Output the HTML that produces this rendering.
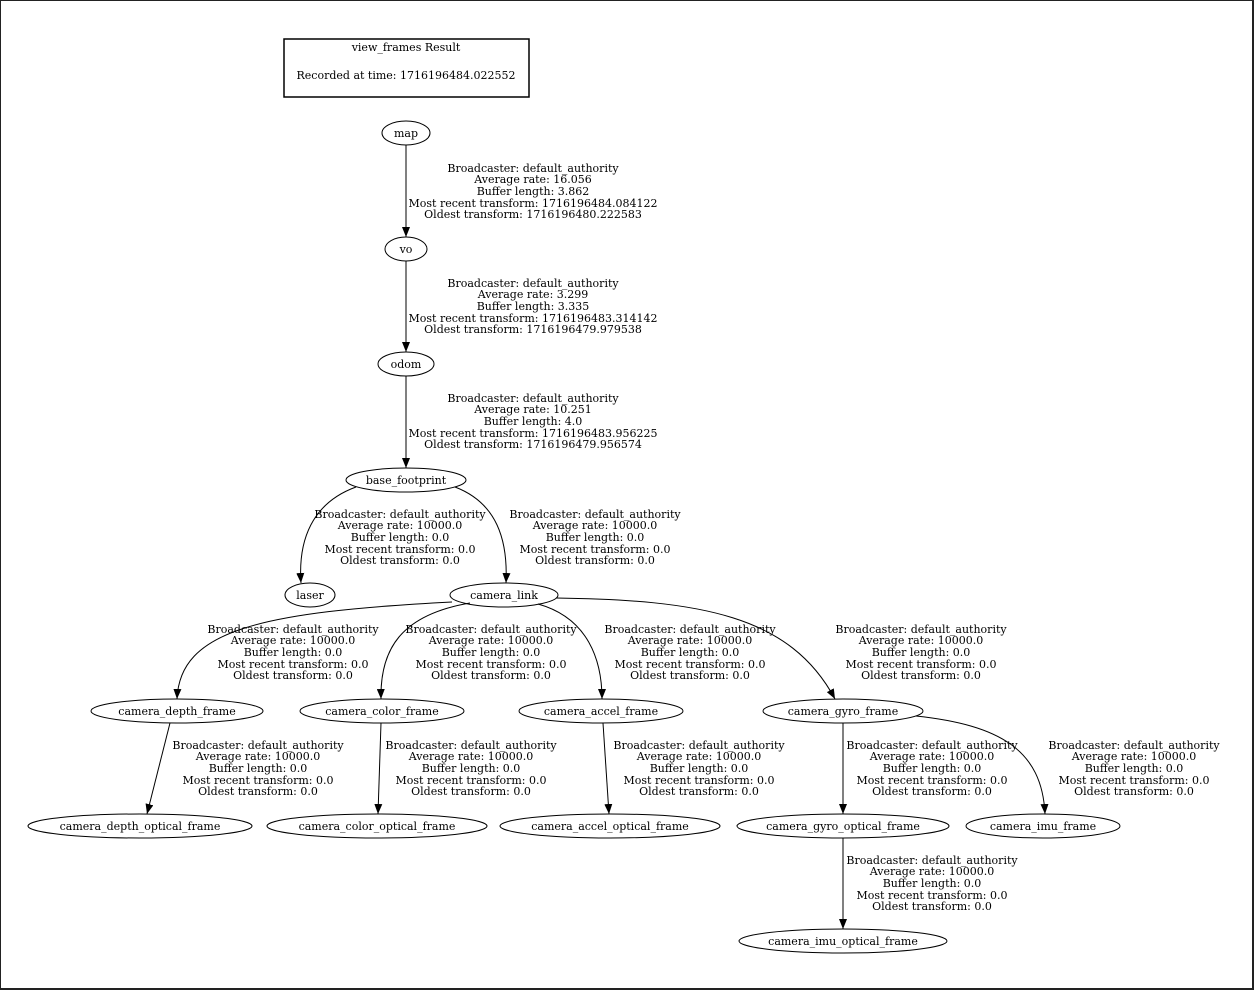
<!DOCTYPE html>
<html><head><meta charset="utf-8"><style>
html,body{margin:0;padding:0;background:#fff}
svg{display:block}
text{font-family:"DejaVu Serif","Liberation Serif",serif;font-size:11px;fill:#000}
</style></head><body>
<svg width="1254" height="990" viewBox="0 0 1254 990" xmlns="http://www.w3.org/2000/svg">
<defs><marker id="a" markerWidth="10" markerHeight="8" refX="10" refY="4" orient="auto" markerUnits="userSpaceOnUse"><path d="M0,0 L10,4 L0,8 z" fill="#000"/></marker></defs>
<rect x="0.5" y="0.5" width="1252" height="988" fill="#fff" stroke="#222" stroke-width="1"/>
<line x1="1253" y1="0" x2="1253" y2="990" stroke="#222" stroke-width="2"/>
<line x1="0" y1="989" x2="1254" y2="989" stroke="#222" stroke-width="2"/>
<rect x="284" y="39" width="245" height="58" fill="none" stroke="#000" stroke-width="1.5"/>
<g text-anchor="middle">
<text x="406" y="51">view_frames Result</text>
<text x="406" y="79">Recorded at time: 1716196484.022552</text>
</g>
<g fill="none" stroke="#000" stroke-width="1">
<ellipse cx="406" cy="133" rx="24" ry="12"/>
<ellipse cx="406" cy="249" rx="21" ry="12"/>
<ellipse cx="406" cy="364" rx="28" ry="12"/>
<ellipse cx="406" cy="480" rx="60" ry="12"/>
<ellipse cx="310" cy="595" rx="25" ry="12"/>
<ellipse cx="504" cy="595" rx="54" ry="12"/>
<ellipse cx="177" cy="711" rx="86" ry="12"/>
<ellipse cx="382" cy="711" rx="82" ry="12"/>
<ellipse cx="601" cy="711" rx="82" ry="12"/>
<ellipse cx="843" cy="711" rx="80" ry="12"/>
<ellipse cx="140" cy="826" rx="112" ry="12"/>
<ellipse cx="377" cy="826" rx="110" ry="12"/>
<ellipse cx="610" cy="826" rx="110" ry="12"/>
<ellipse cx="843" cy="826" rx="106" ry="12"/>
<ellipse cx="1043" cy="826" rx="77" ry="12"/>
<ellipse cx="843" cy="941" rx="104" ry="12"/>
</g>
<g fill="none" stroke="#000" stroke-width="1" marker-end="url(#a)">
<path d="M406,145 L406,237"/>
<path d="M406,261 L406,352"/>
<path d="M406,376 L406,468"/>
<path d="M356,487 C312,503 298,540 301,583"/>
<path d="M455,487 C497,503 508,540 506,583"/>
<path d="M452,602 C260,612 180,630 177,699"/>
<path d="M470,603 C400,615 380,650 381,699"/>
<path d="M538,604 C588,618 602,660 602,699"/>
<path d="M556,598 C700,600 790,615 835,699"/>
<path d="M170,723 L147,814"/>
<path d="M381,723 L378,814"/>
<path d="M603,723 L609,814"/>
<path d="M843,723 L843,814"/>
<path d="M916,716 C1000,725 1042,750 1045,814"/>
<path d="M843,838 L843,929"/>
</g>
<g text-anchor="middle">
<text x="406" y="137">map</text>
<text x="406" y="253">vo</text>
<text x="406" y="368">odom</text>
<text x="406" y="484">base_footprint</text>
<text x="310" y="599">laser</text>
<text x="504" y="599">camera_link</text>
<text x="177" y="715">camera_depth_frame</text>
<text x="382" y="715">camera_color_frame</text>
<text x="601" y="715">camera_accel_frame</text>
<text x="843" y="715">camera_gyro_frame</text>
<text x="140" y="830">camera_depth_optical_frame</text>
<text x="377" y="830">camera_color_optical_frame</text>
<text x="610" y="830">camera_accel_optical_frame</text>
<text x="843" y="830">camera_gyro_optical_frame</text>
<text x="1043" y="830">camera_imu_frame</text>
<text x="843" y="945">camera_imu_optical_frame</text>

<text x="533" y="172">Broadcaster: default_authority</text>
<text x="533" y="183">Average rate: 16.056</text>
<text x="533" y="195">Buffer length: 3.862</text>
<text x="533" y="207">Most recent transform: 1716196484.084122</text>
<text x="533" y="218">Oldest transform: 1716196480.222583</text>

<text x="533" y="287">Broadcaster: default_authority</text>
<text x="533" y="298">Average rate: 3.299</text>
<text x="533" y="310">Buffer length: 3.335</text>
<text x="533" y="322">Most recent transform: 1716196483.314142</text>
<text x="533" y="333">Oldest transform: 1716196479.979538</text>

<text x="533" y="402">Broadcaster: default_authority</text>
<text x="533" y="413">Average rate: 10.251</text>
<text x="533" y="425">Buffer length: 4.0</text>
<text x="533" y="437">Most recent transform: 1716196483.956225</text>
<text x="533" y="448">Oldest transform: 1716196479.956574</text>

<text x="400" y="518">Broadcaster: default_authority</text>
<text x="400" y="529">Average rate: 10000.0</text>
<text x="400" y="541">Buffer length: 0.0</text>
<text x="400" y="553">Most recent transform: 0.0</text>
<text x="400" y="564">Oldest transform: 0.0</text>

<text x="595" y="518">Broadcaster: default_authority</text>
<text x="595" y="529">Average rate: 10000.0</text>
<text x="595" y="541">Buffer length: 0.0</text>
<text x="595" y="553">Most recent transform: 0.0</text>
<text x="595" y="564">Oldest transform: 0.0</text>

<text x="293" y="633">Broadcaster: default_authority</text>
<text x="293" y="644">Average rate: 10000.0</text>
<text x="293" y="656">Buffer length: 0.0</text>
<text x="293" y="668">Most recent transform: 0.0</text>
<text x="293" y="679">Oldest transform: 0.0</text>

<text x="491" y="633">Broadcaster: default_authority</text>
<text x="491" y="644">Average rate: 10000.0</text>
<text x="491" y="656">Buffer length: 0.0</text>
<text x="491" y="668">Most recent transform: 0.0</text>
<text x="491" y="679">Oldest transform: 0.0</text>

<text x="690" y="633">Broadcaster: default_authority</text>
<text x="690" y="644">Average rate: 10000.0</text>
<text x="690" y="656">Buffer length: 0.0</text>
<text x="690" y="668">Most recent transform: 0.0</text>
<text x="690" y="679">Oldest transform: 0.0</text>

<text x="921" y="633">Broadcaster: default_authority</text>
<text x="921" y="644">Average rate: 10000.0</text>
<text x="921" y="656">Buffer length: 0.0</text>
<text x="921" y="668">Most recent transform: 0.0</text>
<text x="921" y="679">Oldest transform: 0.0</text>

<text x="258" y="749">Broadcaster: default_authority</text>
<text x="258" y="760">Average rate: 10000.0</text>
<text x="258" y="772">Buffer length: 0.0</text>
<text x="258" y="784">Most recent transform: 0.0</text>
<text x="258" y="795">Oldest transform: 0.0</text>

<text x="471" y="749">Broadcaster: default_authority</text>
<text x="471" y="760">Average rate: 10000.0</text>
<text x="471" y="772">Buffer length: 0.0</text>
<text x="471" y="784">Most recent transform: 0.0</text>
<text x="471" y="795">Oldest transform: 0.0</text>

<text x="699" y="749">Broadcaster: default_authority</text>
<text x="699" y="760">Average rate: 10000.0</text>
<text x="699" y="772">Buffer length: 0.0</text>
<text x="699" y="784">Most recent transform: 0.0</text>
<text x="699" y="795">Oldest transform: 0.0</text>

<text x="932" y="749">Broadcaster: default_authority</text>
<text x="932" y="760">Average rate: 10000.0</text>
<text x="932" y="772">Buffer length: 0.0</text>
<text x="932" y="784">Most recent transform: 0.0</text>
<text x="932" y="795">Oldest transform: 0.0</text>

<text x="1134" y="749">Broadcaster: default_authority</text>
<text x="1134" y="760">Average rate: 10000.0</text>
<text x="1134" y="772">Buffer length: 0.0</text>
<text x="1134" y="784">Most recent transform: 0.0</text>
<text x="1134" y="795">Oldest transform: 0.0</text>

<text x="932" y="864">Broadcaster: default_authority</text>
<text x="932" y="875">Average rate: 10000.0</text>
<text x="932" y="887">Buffer length: 0.0</text>
<text x="932" y="899">Most recent transform: 0.0</text>
<text x="932" y="910">Oldest transform: 0.0</text>
</g>
</svg>
</body></html>
